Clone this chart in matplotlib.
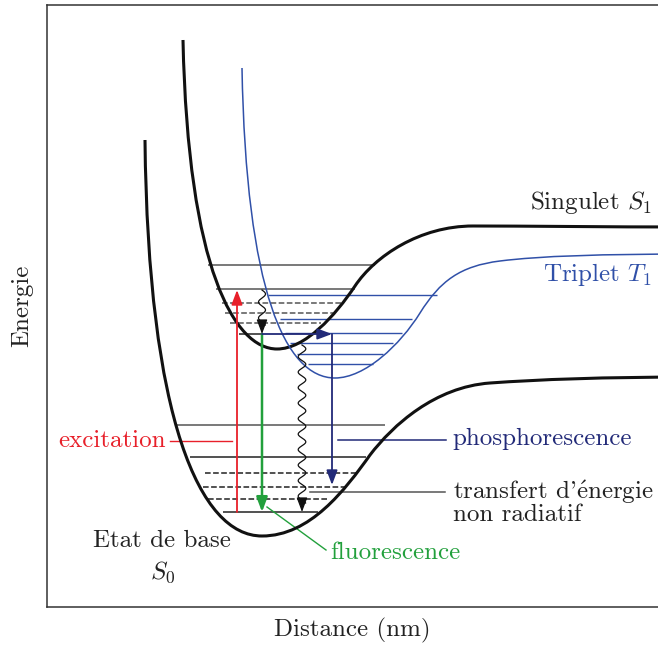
import numpy as np
import matplotlib.pyplot as plt
from matplotlib.path import Path
from matplotlib.patches import PathPatch

plt.rcParams['font.family'] = ['cmr10', 'DejaVu Serif']
plt.rcParams['mathtext.fontset'] = 'cm'
plt.rcParams['axes.unicode_minus'] = False

# Potential curves as cubic Bezier vertices (distance, energy)
s0_curve = [(145, 511), (148, 231), (200, 115), (262, 115),
            (310, 115), (345, 161), (370, 196),
            (393, 226), (435, 264), (490, 268),
            (540, 271.5), (600, 274), (700, 274)]
s1_curve = [(183, 611), (188, 381), (235, 302), (277, 302),
            (305, 302), (335, 335), (355, 365),
            (375, 395), (420, 425), (473, 425),
            (526, 425), (600, 424), (700, 424)]
t1_curve = [(242, 583), (246, 361), (285, 273), (335, 273),
            (365, 273), (400, 306), (420, 338),
            (440, 370), (460, 385), (500, 390),
            (540, 395), (600, 397), (700, 397)]

# vibrational levels: energy, start, end
s0_E = [226, 194, 178, 164, 152, 139]
s0_x0 = [176, 190, 205, 203, 208, 223]
s0_x1 = [385, 366, 357, 345, 327, 318]
s0_style = ['solid', 'solid', 'dashed', 'dashed', 'dashed', 'solid']
s0_color = ['#555555', '#222222', '#222222', '#222222', '#222222', '#222222']

s1_E = [386, 362, 348, 338, 328, 317]
s1_x0 = [208, 216, 222, 225, 230, 239]
s1_x1 = [375, 355, 343, 333, 321, 263]
s1_style = ['solid', 'solid', 'dashed', 'dashed', 'dashed', 'solid']
s1_color = ['#555555', '#555555', '#555555', '#555555', '#555555', '#222222']

t1_E = [356, 332, 318, 308, 297, 287]
t1_x0 = [268, 280, 285, 290, 297, 308]
t1_x1 = [437, 412, 402, 393, 383, 373]

# transitions
excitation_x, excitation_E = 237, [139, 361]
fluo_x, fluo_E = 262, [317, 139]
phospho_h = [(262, 317), (332, 317)]
phospho_v = [(332, 317), (332, 166)]
ic_x, ic_E = 262, [361, 317]
nr_x, nr_E = 302, [306, 139]

red = '#e8202a'
green = '#22a03c'
blue = '#3050a8'
navy = '#222a78'
gray = '#555555'

fig = plt.figure(figsize=(6.58, 6.51), dpi=100)
ax = fig.add_axes([47/658, 44/651, 1 - 47/658, 602/651])
ax.set_xlim(47, 658)
ax.set_ylim(44, 646)
ax.set_xticks([])
ax.set_yticks([])
for side in ['top', 'left', 'bottom']:
    ax.spines[side].set_linewidth(1.1)
    ax.spines[side].set_color('#333333')
ax.spines['right'].set_visible(False)

for E, a, b, ls, c in zip(s0_E, s0_x0, s0_x1, s0_style, s0_color):
    ax.hlines(E, a, b, colors=c, linestyles=ls, lw=1.1)
for E, a, b, ls, c in zip(s1_E, s1_x0, s1_x1, s1_style, s1_color):
    ax.hlines(E, a, b, colors=c, linestyles=ls, lw=1.1)
ax.hlines(t1_E, t1_x0, t1_x1, colors=blue, lw=1.0)


def bezier(verts, color, lw):
    codes = [Path.MOVETO] + [Path.CURVE4] * (len(verts) - 1)
    ax.add_patch(PathPatch(Path(verts, codes), fc='none', ec=color, lw=lw,
                           capstyle='butt', zorder=3))


bezier(s0_curve, '#111111', 2.2)
bezier(s1_curve, '#111111', 2.2)
bezier(t1_curve, blue, 1.1)

head = dict(arrowstyle='-|>,head_length=0.8,head_width=0.3', mutation_scale=11,
            shrinkA=0, shrinkB=0, lw=1.3)

ax.annotate('', xy=(excitation_x, excitation_E[1]), xytext=(excitation_x, excitation_E[0]),
            arrowprops=dict(head, color=red), zorder=5)
ax.annotate('', xy=(fluo_x, fluo_E[1]), xytext=(fluo_x, fluo_E[0]),
            arrowprops=dict(head, color=green, lw=1.8), zorder=5)
ax.annotate('', xy=phospho_h[1], xytext=phospho_h[0],
            arrowprops=dict(head, color=navy), zorder=5)
ax.annotate('', xy=phospho_v[1], xytext=phospho_v[0],
            arrowprops=dict(head, color=navy), zorder=5)


def wavy(x, E_top, E_bot, period, amp):
    y = np.linspace(E_top, E_bot + 9, 300)
    ax.plot(x + amp * np.sin(2 * np.pi * (E_top - y) / period), y,
            color='#111111', lw=0.9, zorder=5)
    ax.annotate('', xy=(x, E_bot), xytext=(x, E_bot + 10),
                arrowprops=dict(head, color='#111111', lw=0.9), zorder=5)


wavy(ic_x, ic_E[0], ic_E[1], 16, 3.5)
wavy(nr_x, nr_E[0], nr_E[1], 15.5, 3.8)

# labels
fs = 18
ax.plot([170, 232], [210, 210], color=red, lw=1.0)
ax.text(166, 210, 'excitation', color=red, fontsize=fs, ha='right', va='center')
ax.plot([338, 446], [211, 211], color=navy, lw=1.1)
ax.text(452, 212, 'phosphorescence', color=navy, fontsize=fs, ha='left', va='center')
ax.plot([310, 445], [159, 159], color=gray, lw=1.1)
ax.text(453, 149, "transfert d'$\\mathrm{\\acute{e}}$nergie\nnon radiatif", color='#222222',
        fontsize=fs, ha='left', va='center', linespacing=0.85)
ax.plot([267, 326], [144, 101], color=green, lw=1.0)
ax.text(330, 98, 'fluorescence', color=green, fontsize=fs, ha='left', va='center')
ax.text(162, 110, 'Etat de base', color='#222222', fontsize=fs, ha='center', va='center')
ax.text(163, 79, '$S_0$', color='#222222', fontsize=fs, ha='center', va='center')
ax.text(652, 448, 'Singulet $S_1$', color='#222222', fontsize=fs, ha='right', va='center')
ax.text(652, 376, 'Triplet $T_1$', color=blue, fontsize=fs, ha='right', va='center')

ax.set_xlabel('Distance (nm)', fontsize=fs, color='#222222', labelpad=8)
ax.set_ylabel('Energie', fontsize=fs, color='#222222', labelpad=10)

fig.savefig('out.png', dpi=100)
